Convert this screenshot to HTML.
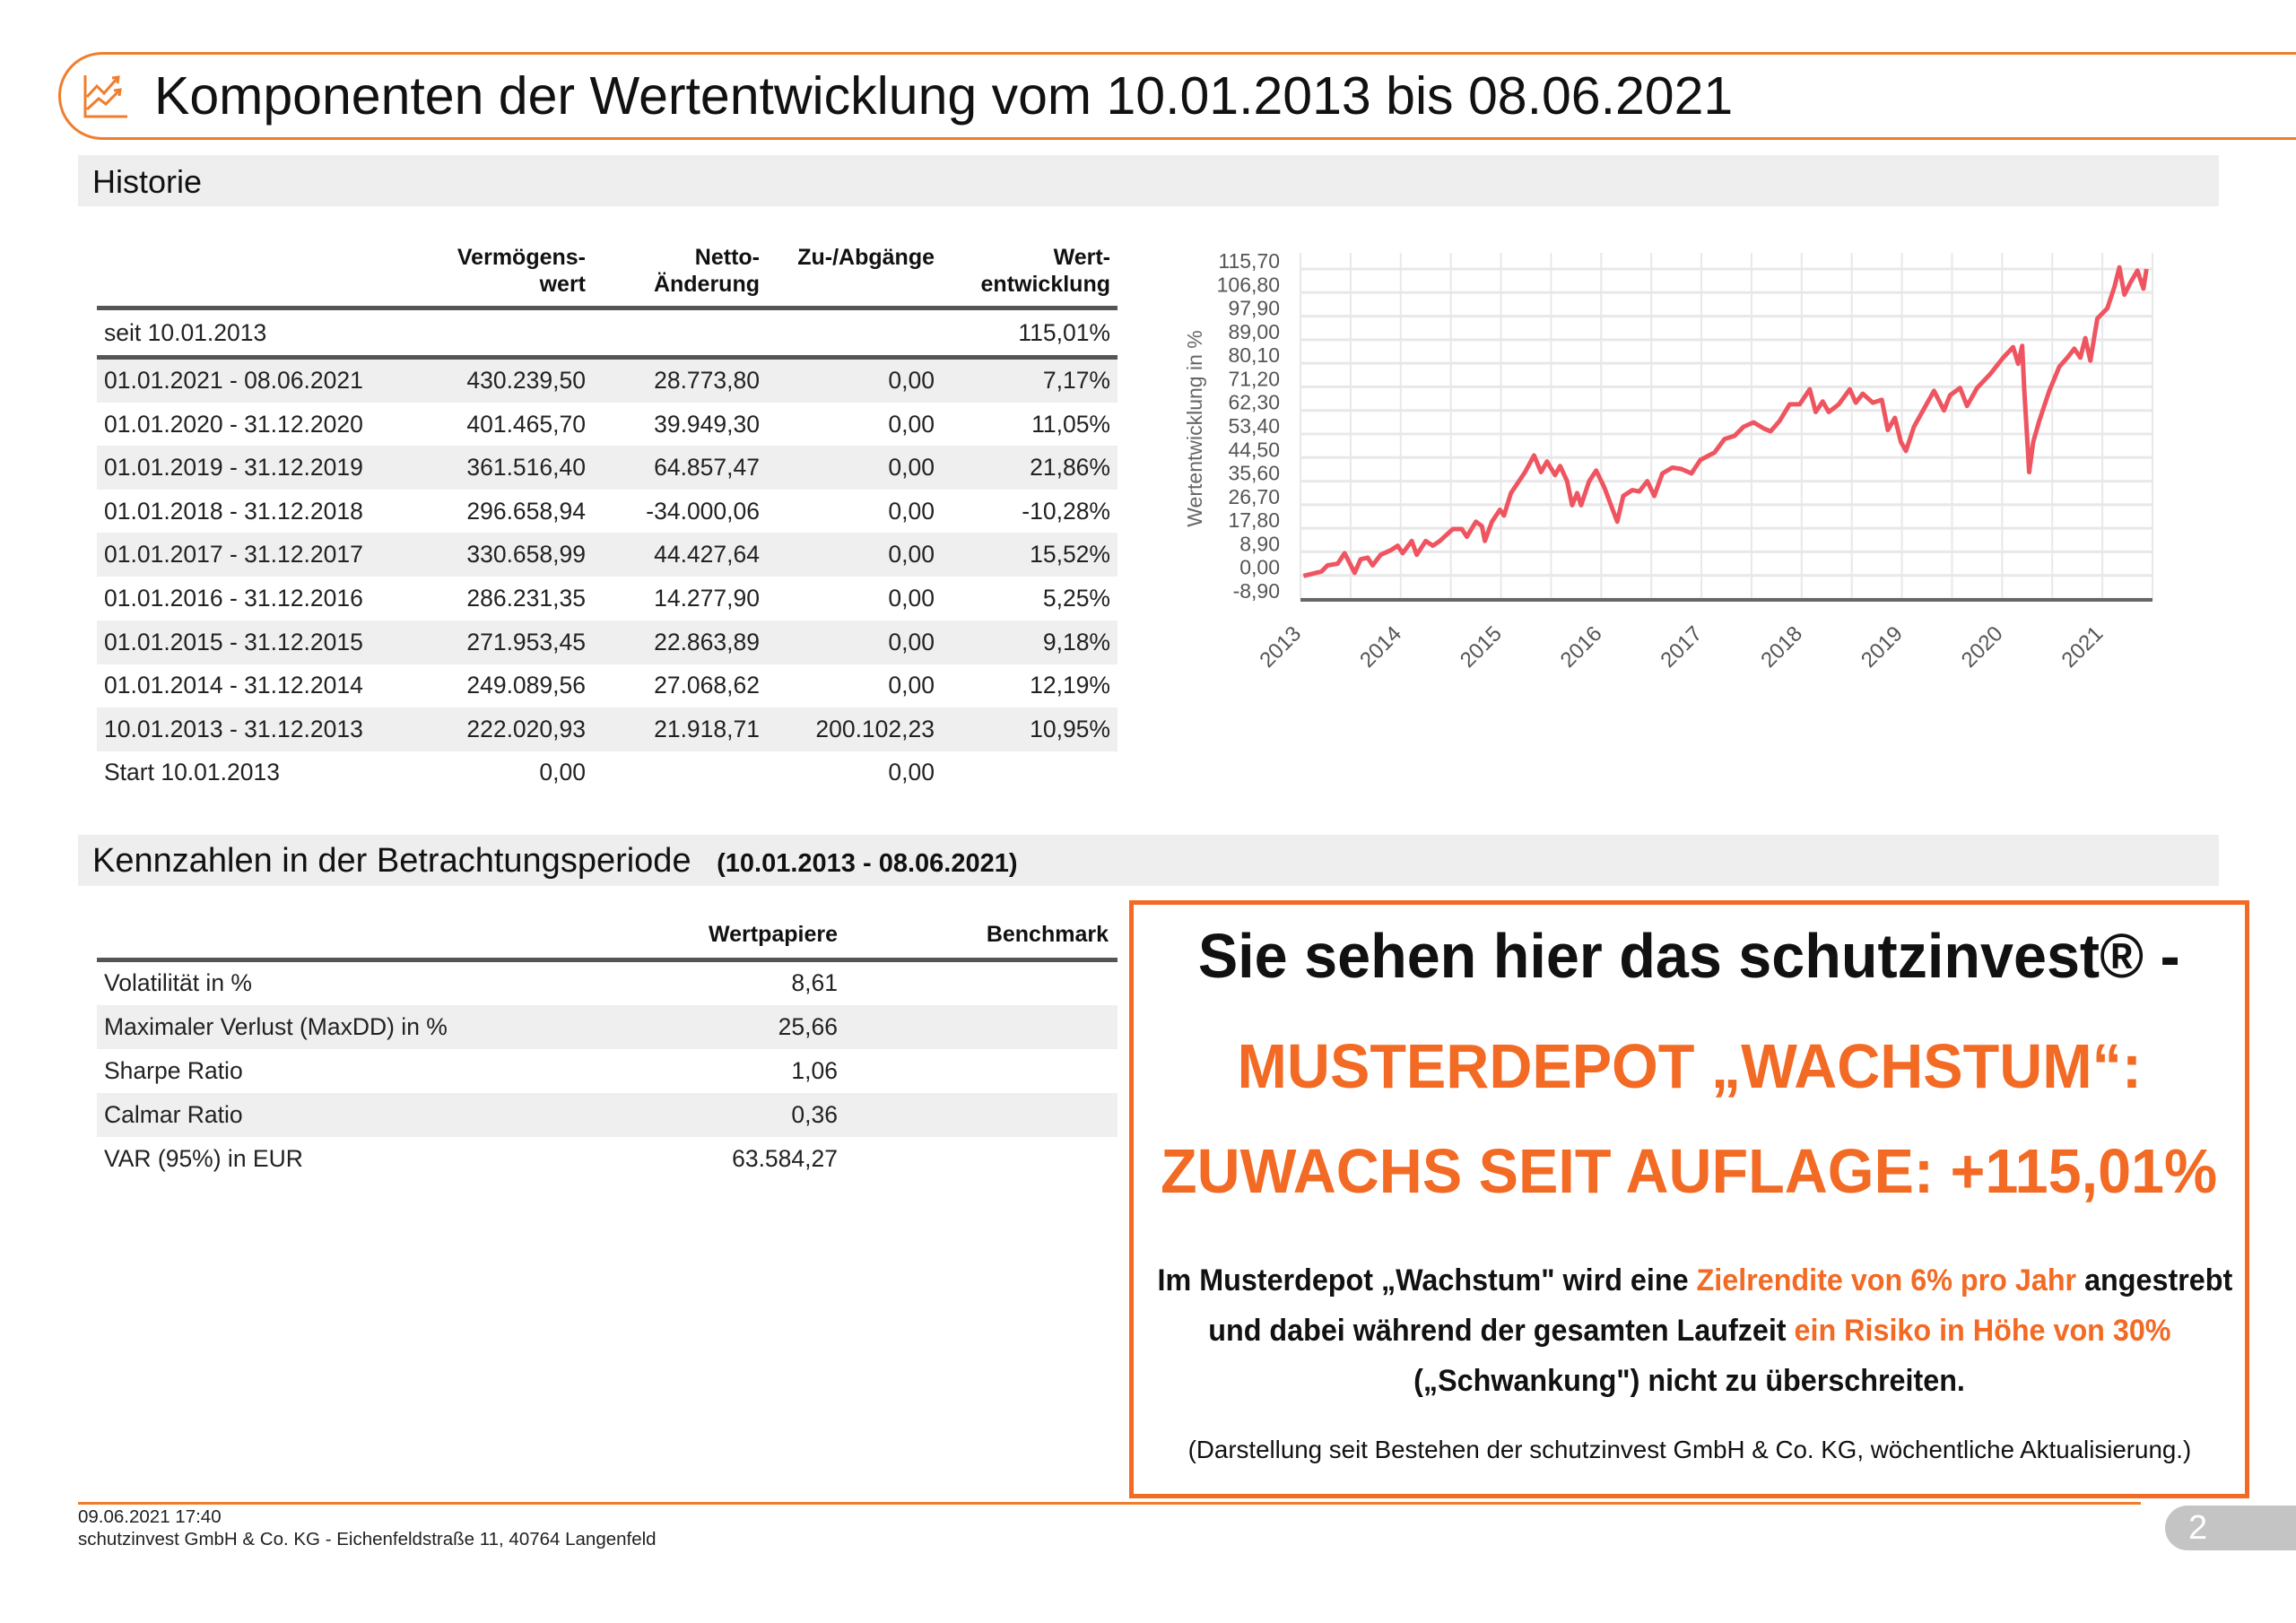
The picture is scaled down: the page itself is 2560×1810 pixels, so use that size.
<!DOCTYPE html>
<html><head><meta charset="utf-8">
<style>
*{margin:0;padding:0;box-sizing:border-box}
body{width:2560px;height:1810px;background:#fff;position:relative;overflow:hidden;font-family:"Liberation Sans",sans-serif;color:#222}
.abs{position:absolute}
.row{position:absolute;height:49px;line-height:49px;font-size:26.5px;color:#222}
.c{position:absolute;white-space:nowrap}
.r{text-align:right}
.hd{font-weight:bold;font-size:25px;line-height:30px;color:#111}
.big{position:absolute;left:1259px;width:1249px;text-align:center;white-space:nowrap;font-weight:bold}
.big span.s{display:inline-block;transform:scaleX(.95);transform-origin:center}
.or{color:#f26a24}
</style></head><body>

<div class="abs" style="left:65px;top:58px;width:2560px;height:98px;border:3px solid #f07d2c;border-right:none;border-radius:50px 0 0 50px"></div>
<svg class="abs" style="left:92px;top:82px" width="52" height="52" viewBox="0 0 52 52">
<path d="M3 2 V48 H50" stroke="#f07d2c" stroke-width="3" fill="none"/>
<path d="M5 26 L16 14 L24 22 L38 6" stroke="#f07d2c" stroke-width="3" fill="none"/>
<path d="M5 40 L18 28 L26 34 L40 20" stroke="#f07d2c" stroke-width="3" fill="none"/>
<path d="M33 5 L40 4 L39 11 M35 19 L42 18 L41 25" stroke="#f07d2c" stroke-width="3" fill="none"/>
</svg>
<div class="abs" style="left:172px;top:72px;font-size:59px;line-height:70px;color:#111;white-space:nowrap">Komponenten der Wertentwicklung vom 10.01.2013 bis 08.06.2021</div>

<div class="abs" style="left:87px;top:173px;width:2387px;height:57px;background:#eeeeee"></div>
<div class="abs" style="left:103px;top:174px;line-height:57px;font-size:36px;color:#111">Historie</div>

<div class="c hd r" style="right:1907px;top:272px">Vermögens-<br>wert</div>
<div class="c hd r" style="right:1713px;top:272px">Netto-<br>Änderung</div>
<div class="c hd r" style="right:1518px;top:272px">Zu-/Abgänge</div>
<div class="c hd r" style="right:1322px;top:272px">Wert-<br>entwicklung</div>
<div class="abs" style="left:108px;top:341px;width:1138px;height:5px;background:#555"></div>
<div id="histRows"></div>
<div class="abs" style="left:108px;top:396px;width:1138px;height:5px;background:#555"></div>

<div class="abs" style="left:87px;top:931px;width:2387px;height:57px;background:#eeeeee"></div>
<div class="abs" style="left:103px;top:932px;line-height:57px;font-size:38px;color:#111;white-space:nowrap">Kennzahlen in der Betrachtungsperiode <span style="font-size:29px;font-weight:bold;margin-left:18px">(10.01.2013 - 08.06.2021)</span></div>
<div class="c hd r" style="right:1626px;top:1027px">Wertpapiere</div>
<div class="c hd r" style="right:1324px;top:1027px">Benchmark</div>
<div class="abs" style="left:108px;top:1068px;width:1138px;height:5px;background:#555"></div>
<div id="kzRows"></div>

<svg id="chart" class="abs" style="left:0;top:0" width="2560" height="800"></svg>

<div class="abs" style="left:1259px;top:1004px;width:1249px;height:667px;border:5px solid #f26a24"></div>
<div class="big" style="top:1030px;font-size:70px;line-height:72px;color:#111"><span class="s">Sie sehen hier das schutzinvest® -</span></div>
<div class="big or" style="top:1153px;font-size:70px;line-height:72px"><span class="s">MUSTERDEPOT „WACHSTUM“:</span></div>
<div class="big or" style="top:1270px;font-size:70px;line-height:72px"><span class="s">ZUWACHS SEIT AUFLAGE: +115,01%</span></div>
<div class="big" style="top:1408px;font-size:34px;line-height:40px;color:#111"><span class="s">Im Musterdepot „Wachstum" wird eine <span class="or">Zielrendite von 6% pro Jahr</span> angestrebt</span></div>
<div class="big" style="top:1464px;font-size:34px;line-height:40px;color:#111"><span class="s">und dabei während der gesamten Laufzeit <span class="or">ein Risiko in Höhe von 30%</span></span></div>
<div class="big" style="top:1520px;font-size:34px;line-height:40px;color:#111"><span class="s">(„Schwankung") nicht zu überschreiten.</span></div>
<div class="big" style="top:1600px;font-size:28px;line-height:34px;color:#111;font-weight:normal"><span class="s" style="transform:scaleX(.99)">(Darstellung seit Bestehen der schutzinvest GmbH &amp; Co. KG, wöchentliche Aktualisierung.)</span></div>

<div class="abs" style="left:87px;top:1675px;width:2300px;height:3px;background:#f07d2c"></div>
<div class="abs" style="left:87px;top:1680px;font-size:20.5px;line-height:24px;color:#222">09.06.2021 17:40</div>
<div class="abs" style="left:87px;top:1705px;font-size:20.5px;line-height:24px;color:#222;white-space:nowrap">schutzinvest GmbH &amp; Co. KG - Eichenfeldstraße 11, 40764 Langenfeld</div>
<div class="abs" style="left:2414px;right:0;top:1679px;height:50px;background:#c4c4c4;border-radius:25px 0 0 25px;color:#fff;font-size:38px;line-height:50px;padding-left:26px">2</div>

<script>
const histPeriods=["seit 10.01.2013","01.01.2021 - 08.06.2021","01.01.2020 - 31.12.2020","01.01.2019 - 31.12.2019","01.01.2018 - 31.12.2018","01.01.2017 - 31.12.2017","01.01.2016 - 31.12.2016","01.01.2015 - 31.12.2015","01.01.2014 - 31.12.2014","10.01.2013 - 31.12.2013","Start 10.01.2013"];
const histVerm=["","430.239,50","401.465,70","361.516,40","296.658,94","330.658,99","286.231,35","271.953,45","249.089,56","222.020,93","0,00"];
const histNetto=["","28.773,80","39.949,30","64.857,47","-34.000,06","44.427,64","14.277,90","22.863,89","27.068,62","21.918,71",""];
const histZu=["","0,00","0,00","0,00","0,00","0,00","0,00","0,00","0,00","200.102,23","0,00"];
const histWert=["115,01%","7,17%","11,05%","21,86%","-10,28%","15,52%","5,25%","9,18%","12,19%","10,95%",""];
const kzNames=["Volatilität in %","Maximaler Verlust (MaxDD) in %","Sharpe Ratio","Calmar Ratio","VAR (95%) in EUR"];
const kzValues=["8,61","25,66","1,06","0,36","63.584,27"];

const hr=document.getElementById('histRows');
histPeriods.forEach((p,i)=>{
  const top = i===0 ? 347 : 400+(i-1)*48.6;
  const d=document.createElement('div');
  d.className='row';
  
  
  d.style.left='108px';d.style.width='1138px';d.style.top=top+'px';
  if(i>0 && i<10 && (i-1)%2===0) d.style.background='#efefef';
  d.innerHTML='<span class="c" style="left:8px">'+p+'</span>'+
    '<span class="c r" style="right:593px">'+histVerm[i]+'</span>'+
    '<span class="c r" style="right:399px">'+histNetto[i]+'</span>'+
    '<span class="c r" style="right:204px">'+histZu[i]+'</span>'+
    '<span class="c r" style="right:8px">'+histWert[i]+'</span>';
  hr.appendChild(d);
});
const kr=document.getElementById('kzRows');
kzNames.forEach((n,i)=>{
  const d=document.createElement('div');
  d.className='row';
  
  
  d.style.left='108px';d.style.width='1138px';d.style.top=(1072+i*49)+'px';
  if(i%2===1) d.style.background='#efefef';
  d.innerHTML='<span class="c" style="left:8px">'+n+'</span><span class="c r" style="right:312px">'+kzValues[i]+'</span>';
  kr.appendChild(d);
});
</script>

<script>
const yTicks=[-8.9,0,8.9,17.8,26.7,35.6,44.5,53.4,62.3,71.2,80.1,89.0,97.9,106.8,115.7];
const yearLabels=["2013","2014","2015","2016","2017","2018","2019","2020","2021"];
const dates=[2013.03,2013.21,2013.27,2013.37,2013.44,2013.54,2013.60,2013.67,2013.72,2013.80,2013.90,2013.97,2014.02,2014.11,2014.16,2014.25,2014.32,2014.39,2014.52,2014.61,2014.66,2014.75,2014.81,2014.84,2014.91,2014.99,2015.03,2015.10,2015.24,2015.33,2015.40,2015.46,2015.54,2015.59,2015.66,2015.71,2015.76,2015.80,2015.88,2015.95,2016.03,2016.12,2016.16,2016.22,2016.31,2016.38,2016.46,2016.53,2016.61,2016.71,2016.80,2016.90,2016.99,2017.13,2017.23,2017.33,2017.42,2017.52,2017.62,2017.69,2017.78,2017.88,2017.98,2018.08,2018.14,2018.21,2018.27,2018.37,2018.48,2018.54,2018.61,2018.71,2018.80,2018.86,2018.93,2018.99,2019.04,2019.12,2019.22,2019.32,2019.42,2019.48,2019.58,2019.65,2019.75,2019.88,2020.01,2020.11,2020.16,2020.20,2020.22,2020.27,2020.31,2020.37,2020.47,2020.57,2020.65,2020.72,2020.78,2020.83,2020.88,2020.95,2021.05,2021.12,2021.17,2021.22,2021.28,2021.35,2021.41,2021.44];
const values=[-0.2,1.5,3.8,4.4,8.4,1.0,6.1,6.7,3.8,7.8,9.5,11.2,8.4,13.0,7.8,13.0,11.2,13.0,17.5,17.5,14.6,20.3,18.6,13.0,20.3,24.8,22.6,31.1,39.0,45.3,39.0,43.0,37.9,41.3,35.6,26.5,31.1,26.5,35.6,39.6,33.4,24.3,20.3,30.0,32.2,31.7,35.6,30.0,38.5,40.7,40.2,38.5,43.6,46.4,51.5,52.7,56.1,57.8,55.5,54.4,58.3,64.6,64.6,70.3,61.7,65.7,61.7,64.6,70.3,65.2,68.6,65.2,66.3,54.9,59.5,50.4,47.0,56.1,62.9,69.7,62.3,68.0,70.8,64.0,70.8,76.0,82.2,86.2,79.9,86.7,70.8,39.0,50.4,58.3,69.7,78.8,82.2,85.6,82.2,89.6,81.1,97.0,100.9,108.9,116.3,106.0,110.6,115.1,108.3,115.7];

const svg=document.getElementById('chart');
const NS='http://www.w3.org/2000/svg';
const X0=1450,X1=2400,Y0=668,Y1=300;
const xMin=2013,xMax=2021.5,yMin=-8.9,yMax=115.7;
const sx=v=>X0+(v-xMin)/(xMax-xMin)*(X1-X0);
const sy=v=>Y0-(v-yMin)/(yMax-yMin)*(Y0-Y1);
function el(t,a){const e=document.createElementNS(NS,t);for(const k in a)e.setAttribute(k,a[k]);svg.appendChild(e);return e;}

for(let k=0;k<=17;k++){
  const xv=xMin+k*0.5;
  const g=el('line',{x1:sx(xv),x2:sx(xv),y1:282,y2:Y0,stroke:'#e8e8e8','stroke-width':2});
  
  
}
yTicks.forEach(t=>{
  const g=el('line',{x1:X0,x2:X1,y1:sy(t),y2:sy(t),stroke:'#e8e8e8','stroke-width':3});
  
  
  const tx=el('text',{x:1427,y:sy(t)-1,'text-anchor':'end','font-size':23,fill:'#555','font-family':'Liberation Sans, sans-serif'});
  tx.textContent=t.toFixed(2).replace('.',',');
  
  
});
yearLabels.forEach((y,i)=>{
  const x=sx(2013+i)+2,yy=Y0+40;
  const tx=el('text',{x:x,y:yy,'text-anchor':'end','font-size':24,fill:'#555','font-family':'Liberation Sans, sans-serif',transform:'rotate(-45 '+x+' '+yy+')'});
  tx.textContent=y;
  
  
});
const ax=el('line',{x1:X0,x2:X1,y1:Y0+1,y2:Y0+1,stroke:'#666','stroke-width':4});


const yt=el('text',{x:1340,y:478,'text-anchor':'middle','font-size':23,fill:'#666','font-family':'Liberation Sans, sans-serif',transform:'rotate(-90 1340 478)'});
yt.textContent='Wertentwicklung in %';


const pts=dates.map((d,i)=>sx(d).toFixed(1)+','+sy(values[i]).toFixed(1)).join(' ');
const pl=el('polyline',{points:pts,fill:'none',stroke:'#ef5560','stroke-width':5,'stroke-linejoin':'round'});


</script>
</body></html>
